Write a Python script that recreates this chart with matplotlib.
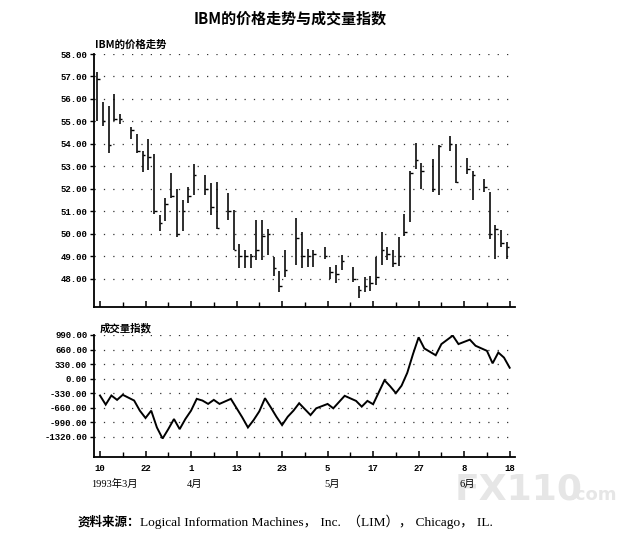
import matplotlib
matplotlib.use("Agg")
import matplotlib.pyplot as plt
import numpy as np

# ---------------- data ----------------
bar_days = [0, 1, 2, 3, 4, 6, 7, 8, 9, 10, 11, 12, 13, 14, 15, 16, 17,
            19, 20, 21, 23, 24, 25, 26, 27, 28, 29, 30, 31, 32, 33,
            35, 36, 37, 38, 40, 41, 42, 43, 45, 46, 47, 48, 49, 50, 51,
            52, 53, 54, 55, 56, 57, 59, 60, 62, 63, 65, 66, 68, 69, 70, 71, 72]
bar_high = [57.2, 55.85, 55.7, 56.2, 55.35, 54.75, 54.45, 53.68, 54.24, 53.57,
            50.84, 51.6, 52.7, 52.0, 51.5, 52.1, 53.13,
            52.63, 52.26, 52.33, 51.81, 51.07, 49.56, 49.27, 49.1, 50.6, 50.63,
            50.2, 48.97, 48.33, 49.27,
            50.7, 50.1, 49.32, 49.3, 49.44, 48.55, 48.62, 49.07, 48.55, 47.69,
            48.07, 48.13, 48.96, 50.1, 49.44,
            49.3, 49.86, 50.88, 52.81, 54.03, 53.14, 53.33, 53.97, 54.37, 54.0,
            53.38, 52.78, 52.44, 51.85, 50.4, 50.17, 49.62]
bar_low = [55.0, 54.8, 53.6, 55.0, 54.9, 54.2, 53.6, 52.75, 52.84, 50.87,
           50.13, 50.57, 51.6, 49.88, 50.13, 51.36, 51.73,
           51.74, 50.85, 50.23, 50.63, 49.3, 48.5, 48.5, 48.5, 48.85, 48.82,
           49.07, 48.14, 47.4, 48.1,
           48.63, 48.5, 48.55, 48.55, 48.87, 47.98, 47.8, 48.4, 47.88, 47.14,
           47.43, 47.48, 47.73, 48.62, 48.82,
           48.55, 48.58, 49.91, 50.51, 52.89, 52.0, 51.85, 51.75, 53.67, 52.25,
           52.66, 51.5, 51.85, 49.77, 48.9, 49.4, 48.87]
bar_close = [56.9, 55.0, 53.95, 55.1, 55.1, 54.6, 53.7, 53.5, 53.4, 51.0,
             50.5, 51.35, 51.7, 50.0, 51.0, 51.7, 52.6,
             52.0, 51.2, 50.25, 51.0, 49.3, 49.0, 49.0, 49.0, 49.3, 49.9,
             50.0, 48.5, 47.7, 48.4,
             49.8, 49.0, 49.0, 49.1, 49.0, 48.3, 48.2, 48.8, 48.0, 47.5,
             47.7, 47.8, 48.1, 49.3, 49.1,
             48.7, 49.0, 50.1, 52.7, 53.3, 52.8, 52.0, 53.9, 54.0, 52.3,
             52.9, 52.6, 52.1, 50.0, 50.2, 49.6, 49.4]

vol_days = [0, 1, 2, 3, 4, 6, 7, 8, 9, 10, 11, 12, 13, 14, 15, 16, 17, 18,
            19, 20, 21, 23, 25, 26, 27, 28, 29, 30, 31, 32, 33, 34, 35, 37,
            38, 40, 41, 43, 45, 46, 47, 48, 50, 51, 52, 53, 54, 55, 56, 57,
            59, 60, 62, 63, 65, 66, 68, 69, 70, 71, 72]
vol_vals = [-382, -588, -382, -481, -366, -496, -725, -892, -725, -1106,
            -1357, -1144, -915, -1144, -915, -725, -458, -496,
            -572, -481, -572, -458, -877, -1106, -938, -740, -443, -648,
            -862, -1052, -862, -725, -557, -825,
            -672, -573, -672, -389, -504, -634, -504, -580, -36, -174, -328,
            -159, 132, 553, 936, 684,
            530, 783, 975, 783, 883, 745, 630, 347, 592, 477, 247]

date_ticks = [0, 8, 16, 24, 32, 40, 48, 56, 64, 72]
date_labels = ["10", "22", "1", "13", "23", "5", "17", "27", "8", "18"]
month_labels = ["1993年3月", "4月", "5月", "6月"]
month_days = [-1.5, 15.3, 39.4, 63.1]

price_ticks = [48, 49, 50, 51, 52, 53, 54, 55, 56, 57, 58]
vol_ticks = [990, 660, 330, 0, -330, -660, -990, -1320]

title = "IBM的价格走势与成交量指数"
price_label = "IBM的价格走势"
vol_label = "成交量指数"
source_head = "资料来源："
source_body = "Logical Information Machines， Inc.  （LIM）， Chicago， IL."

# ---------------- figure ----------------
W, H = 634, 542
fig = plt.figure(figsize=(W / 100, H / 100), dpi=100)
fig.patch.set_facecolor("white")

cjk = ["Noto Sans CJK SC", "DejaVu Sans"]
serif_cjk = ["Liberation Serif", "Noto Sans CJK SC"]
mono = "Liberation Mono"

x0, x1 = 93.5, 515
px_per_day = 5.69
tmin = (x0 - 100) / px_per_day
tmax = (x1 - 100) / px_per_day

# watermark (behind everything)
fig.text(455 / W, 1 - 490 / H, "FX110", ha="left", va="center", fontsize=26,
         fontweight="bold", color="#e6e6e6", family="DejaVu Sans", zorder=-5)
fig.text(568 / W, 1 - 495 / H, ".com", ha="left", va="center", fontsize=13,
         fontweight="bold", color="#e6e6e6", family="DejaVu Sans", zorder=-5)

ax1 = fig.add_axes([x0 / W, 1 - 307 / H, (x1 - x0) / W, (307 - 54) / H])
ax2 = fig.add_axes([x0 / W, 1 - 457 / H, (x1 - x0) / W, (457 - 334.5) / H])

grid_kw = dict(color="#333333", linewidth=0.9, linestyle=(0, (1, 6.5)))

for ax in (ax1, ax2):
    ax.patch.set_alpha(0)
    ax.set_xlim(tmin, tmax)
    for s in ("top", "right"):
        ax.spines[s].set_visible(False)
    for s in ("left", "bottom"):
        ax.spines[s].set_linewidth(1.3)
        ax.spines[s].set_color("black")
    ax.set_xticks(date_ticks)
    ax.set_xticks([d + 4 for d in date_ticks[:-1]], minor=True)
    ax.tick_params(axis="x", which="major", direction="in", length=4.5, width=1.1)
    ax.tick_params(axis="x", which="minor", direction="in", length=3.5, width=1.0)
    ax.tick_params(axis="y", direction="out", length=3, width=1.0, pad=1.5)
    ax.yaxis.grid(True, **grid_kw)
    ax.set_axisbelow(True)

# price bars
bd = np.array(bar_days, dtype=float) - 0.5
ax1.vlines(bd, bar_low, bar_high, color="black", linewidth=1.15)
ax1.hlines(bar_close, bd, bd + 0.45, color="black", linewidth=1.0)
ax1.set_ylim(46.75, 58.0)
ax1.set_yticks(price_ticks)
ax1.set_yticklabels([f"{v:.2f}" for v in price_ticks], fontfamily=mono,
                    fontsize=6.5, fontweight="bold")
ax1.set_xticklabels([])

# volume index line
ax2.plot(vol_days, vol_vals, color="black", linewidth=1.4, solid_joinstyle="miter")
ax2.set_ylim(-1775, 1000)
ax2.set_yticks(vol_ticks)
ax2.set_yticklabels([f"{v:.2f}" for v in vol_ticks], fontfamily=mono,
                    fontsize=6.5, fontweight="bold")
ax2.set_xticklabels(date_labels, fontfamily=mono, fontsize=6.5, fontweight="bold")
ax2.tick_params(axis="x", which="major", pad=5)

for d, lab in zip(month_days, month_labels):
    ax2.text(d, -0.22, lab, transform=ax2.get_xaxis_transform(), ha="left",
             va="center", fontsize=7.5, family=serif_cjk)

# texts
fig.text(290 / W, 1 - 19 / H, title, ha="center", va="center", fontsize=10.8,
         fontweight="bold", family=cjk)
fig.text(95 / W, 1 - 45 / H, price_label, ha="left", va="center", fontsize=7.5,
         fontweight="bold", family=cjk)
fig.text(100 / W, 1 - 328 / H, vol_label, ha="left", va="center", fontsize=7.5,
         fontweight="bold", family=cjk)

t1 = fig.text(78 / W, 1 - 522 / H, source_head, ha="left", va="center",
              fontsize=9, fontweight="bold", family=cjk)
ann = matplotlib.text.Annotation(
    source_body, xy=(1, 0.5), xycoords=t1, xytext=(0, 0),
    textcoords="offset points", ha="left", va="center", fontsize=9.6,
    family=serif_cjk)
ann.set_figure(fig)
fig.texts.append(ann)

fig.savefig("out.png", dpi=100, facecolor="white")
